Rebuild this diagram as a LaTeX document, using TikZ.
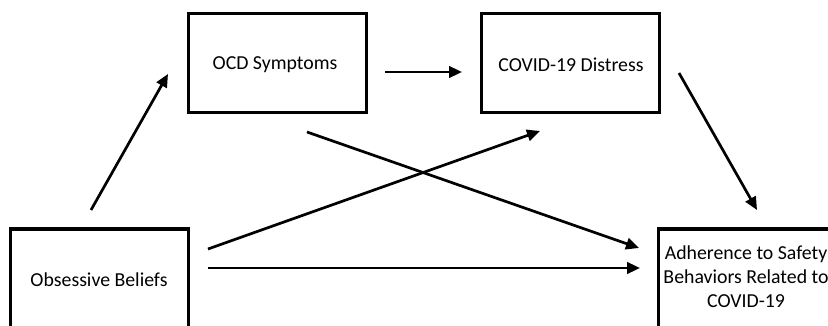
\documentclass[tikz,border=0pt]{standalone}
\usepackage{fontspec}
\setmainfont{Carlito}
\usetikzlibrary{arrows.meta}
\begin{document}
\begin{tikzpicture}[x=1pt,y=-1pt,
  box/.style={draw=black,line width=3pt,rectangle,inner sep=0pt},
  lbl/.style={font=\fontsize{19.8}{24}\selectfont,align=center,inner sep=0pt},
  arr/.style={line width=2.7pt,-{Triangle[length=13pt,width=11.5pt]}}]
\useasboundingbox (0,0) rectangle (828,326);
\fill[white] (0,0) rectangle (828,326);
\clip (0,0) rectangle (828,326);
% boxes
\node[box,minimum width=178pt,minimum height=99pt] (ocd) at (277,63.5) {};
\node[box,minimum width=178pt,minimum height=99pt] (cov) at (570,63.5) {};
\node[box,minimum width=178pt,minimum height=140pt] (ob) at (99,299) {};
\node[box,minimum width=180pt,minimum height=140pt] (ad) at (748,299) {};
% texts
\node[lbl] (tocd) at (275,65) {OCD Symptoms};
\node[lbl] (tcov) at (571,65) {COVID-19 Distress};
\node[lbl] (tob) at (99,280) {Obsessive Beliefs};
\node[lbl] (tad) at (746,277) {Adherence to Safety\\Behaviors Related to\\COVID-19};
% arrow endpoints
\coordinate (a1s) at (91,210);  \coordinate (a1e) at (168,74);
\coordinate (a2s) at (385,72);  \coordinate (a2e) at (462,72);
\coordinate (a3s) at (307,132); \coordinate (a3e) at (639,248);
\coordinate (a4s) at (208,249); \coordinate (a4e) at (540,131);
\coordinate (a5s) at (208,268); \coordinate (a5e) at (640,268);
\coordinate (a6s) at (679,73);  \coordinate (a6e) at (757,210);
\draw[arr] (a1s) -- (a1e);
\draw[arr] (a2s) -- (a2e);
\draw[arr] (a3s) -- (a3e);
\draw[arr] (a4s) -- (a4e);
\draw[arr] (a5s) -- (a5e);
\draw[arr] (a6s) -- (a6e);
\end{tikzpicture}
\end{document}
